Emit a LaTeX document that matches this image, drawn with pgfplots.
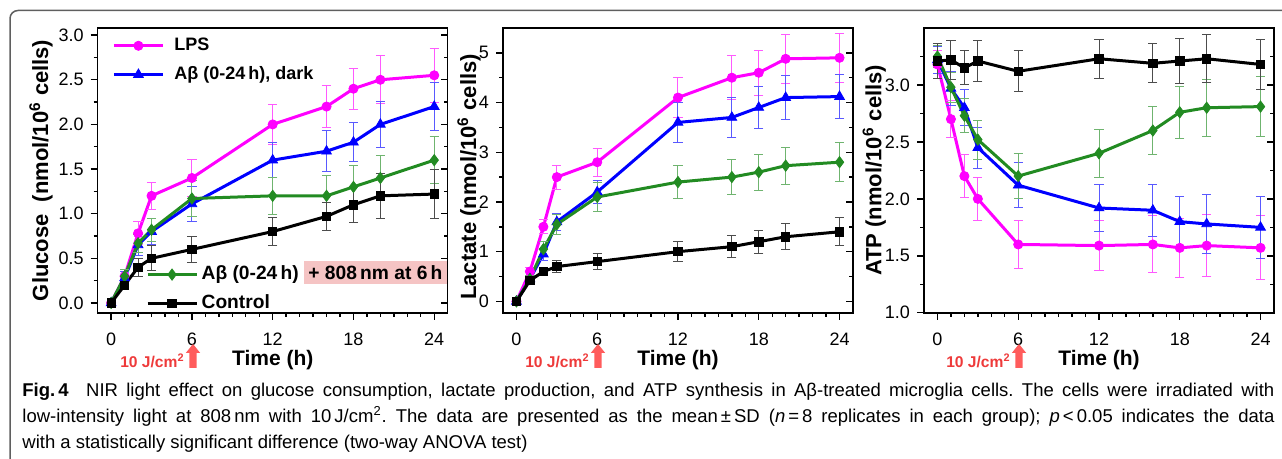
\documentclass[border=0pt]{standalone}
\usepackage{pgfplots}
\pgfplotsset{compat=1.18}
\usepackage{fontspec}
\setmainfont{Liberation Sans}
\newfontfamily\capfont{Liberation Sans}
\usetikzlibrary{arrows.meta}

\definecolor{lpsmag}{RGB}{255,0,255}
\definecolor{abblue}{RGB}{0,0,255}
\definecolor{nirgreen}{RGB}{34,139,34}
\definecolor{doseRed}{RGB}{238,58,58}
\definecolor{arrowRed}{RGB}{255,92,92}
\definecolor{hlpink}{RGB}{245,196,196}
\definecolor{frameGray}{RGB}{95,95,95}

\pgfplotsset{
  panel/.style={
    scale only axis, width=175pt, height=142.4pt, anchor=south west,
    xmin=-1, xmax=25, xtick={0,6,12,18,24}, minor x tick num=5,
    minor y tick num=1,
    xtick pos=bottom, ytick pos=left, tick align=outside,
    major tick length=3.5pt, minor tick length=2pt,
    axis line style={line width=0.8pt},
    tick style={black, line width=0.7pt},
    ticklabel style={font=\fontsize{9}{10}\selectfont},
    xticklabel style={yshift=-3pt},
    /pgf/number format/assume math mode=true,
    xlabel={Time (h)},
    xlabel style={font=\bfseries\fontsize{10.5}{12}\selectfont,
      at={(axis description cs:0.5,-0.165)}, anchor=center},
    clip=false,
  },
  rightticks/.style={panel, ytick pos=right, tick align=inside,
    yticklabels={}, xtick=\empty, axis line style={draw=none},
    xlabel={}, ylabel={}},
  legend image code/.code={\draw[mark repeat=2, mark phase=2, #1]
    plot coordinates {(0pt,0pt) (12.25pt,0pt) (24.5pt,0pt)};},
  ebar/.style={
    /pgfplots/error bars/y dir=both, /pgfplots/error bars/y explicit,
    /pgfplots/error bars/error bar style={#1, line width=0.5pt},
    /pgfplots/error bars/error mark options={#1, rotate=90, line width=0.5pt, mark size=2.3pt}},
  lps/.style={lpsmag, line width=1.5pt, mark=*, mark size=2.3pt,
    mark options={solid, line width=0.4pt}, ebar=lpsmag!65},
  dark/.style={abblue, line width=1.5pt, mark=triangle*, mark size=2.8pt,
    mark options={solid, line width=0.4pt}, ebar=abblue!65},
  nir/.style={nirgreen, line width=1.5pt, mark=diamond*, mark size=2.8pt,
    mark options={solid, line width=0.4pt}, ebar=nirgreen!65},
  ctrl/.style={black, line width=1.5pt, mark=square*, mark size=2.1pt,
    mark options={solid, line width=0.4pt}, ebar=black!70},
  twolegend/.style={legend cell align=left,
    legend style={draw=none, fill=none, inner sep=0pt, row sep=5.6pt,
      font=\bfseries\fontsize{9}{11}\selectfont,
      nodes={inner sep=0pt, text height=7pt, text depth=1.8pt}}},
}

\begin{document}
\begin{tikzpicture}
\useasboundingbox (0,0) rectangle (641pt,-229.5pt);

% ---------- Glucose ----------
\begin{axis}[panel, at={(48.85pt,-156.4pt)},
  ymin=-0.11, ymax=3.08, ytick={0,0.5,...,3},
  yticklabel style={/pgf/number format/.cd, fixed, fixed zerofill, precision=1},
  ylabel={Glucose\ \ (nmol/10\textsuperscript{6} cells)},
  ylabel style={font=\bfseries\fontsize{11}{13}\selectfont,
    at={(axis description cs:-0.162,0.5)}, anchor=center},
  twolegend,
  legend style={at={(axis description cs:0.041,0.887)}, anchor=west, column sep=5pt}]
\addplot[lps] coordinates {(0,0)+-(0,0.02) (1,0.3)+-(0,0.08) (2,0.78)+-(0,0.13)
  (3,1.2)+-(0,0.15) (6,1.4)+-(0,0.21) (12,2.0)+-(0,0.22) (16,2.2)+-(0,0.24)
  (18,2.4)+-(0,0.23) (20,2.5)+-(0,0.27) (24,2.55)+-(0,0.3)};
\addlegendentry{LPS}
\addplot[dark] coordinates {(0,0)+-(0,0.02) (1,0.28)+-(0,0.07) (2,0.65)+-(0,0.12)
  (3,0.8)+-(0,0.15) (6,1.11)+-(0,0.2) (12,1.6)+-(0,0.2) (16,1.7)+-(0,0.23)
  (18,1.8)+-(0,0.22) (20,2.0)+-(0,0.26) (24,2.2)+-(0,0.27)};
\addlegendentry{Aβ (0-24\,h), dark}
\addplot[nir] coordinates {(0,0)+-(0,0.02) (1,0.3)+-(0,0.07) (2,0.67)+-(0,0.1)
  (3,0.82)+-(0,0.13) (6,1.17)+-(0,0.2) (12,1.2)+-(0,0.21) (16,1.2)+-(0,0.23)
  (18,1.3)+-(0,0.24) (20,1.4)+-(0,0.25) (24,1.6)+-(0,0.26)};
\addplot[ctrl] coordinates {(0,0)+-(0,0.02) (1,0.2)+-(0,0.05) (2,0.4)+-(0,0.1)
  (3,0.5)+-(0,0.14) (6,0.6)+-(0,0.15) (12,0.8)+-(0,0.16) (16,0.97)+-(0,0.16)
  (18,1.1)+-(0,0.2) (20,1.2)+-(0,0.25) (24,1.22)+-(0,0.27)};
\end{axis}
\begin{axis}[rightticks, at={(48.85pt,-156.4pt)},
  ymin=-0.11, ymax=3.08, ytick={0,0.5,...,3}]
\end{axis}
% second legend of the first panel
\begin{axis}[panel, at={(48.85pt,-156.4pt)}, hide axis,
  xmin=0, xmax=1, ymin=0, ymax=1, twolegend,
  legend style={at={(axis description cs:0.137,0.0836)}, anchor=west, column sep=1.8pt,
    font=\bfseries\fontsize{9.6}{11}\selectfont}]
\addlegendimage{nir}
\addlegendentry{Aβ (0-24\,h) \smash{\setlength{\fboxsep}{2.2pt}\colorbox{hlpink}{+ 808\,nm at 6\,h}}}
\addlegendimage{ctrl}
\addlegendentry{Control}
\end{axis}

% ---------- Lactate ----------
\begin{axis}[panel, at={(251.5pt,-156.4pt)},
  ymin=-0.23, ymax=5.5, ytick={0,1,...,5},
  ylabel={Lactate (nmol/10\textsuperscript{6} cells)},
  ylabel style={font=\bfseries\fontsize{11}{13}\selectfont,
    at={(axis description cs:-0.097,0.477)}, anchor=center}]
\addplot[lps] coordinates {(0,0)+-(0,0.03) (1,0.6)+-(0,0.08) (2,1.5)+-(0,0.14)
  (3,2.5)+-(0,0.24) (6,2.8)+-(0,0.28) (12,4.1)+-(0,0.4) (16,4.5)+-(0,0.44)
  (18,4.6)+-(0,0.45) (20,4.88)+-(0,0.49) (24,4.9)+-(0,0.49)};
\addplot[dark] coordinates {(0,0)+-(0,0.03) (1,0.45)+-(0,0.07) (2,0.95)+-(0,0.12)
  (3,1.6)+-(0,0.17) (6,2.2)+-(0,0.24) (12,3.6)+-(0,0.4) (16,3.7)+-(0,0.4)
  (18,3.9)+-(0,0.42) (20,4.1)+-(0,0.45) (24,4.12)+-(0,0.44)};
\addplot[nir] coordinates {(0,0)+-(0,0.03) (1,0.45)+-(0,0.08) (2,1.05)+-(0,0.15)
  (3,1.55)+-(0,0.2) (6,2.1)+-(0,0.3) (12,2.4)+-(0,0.33) (16,2.5)+-(0,0.35)
  (18,2.6)+-(0,0.36) (20,2.73)+-(0,0.37) (24,2.8)+-(0,0.39)};
\addplot[ctrl] coordinates {(0,0)+-(0,0.03) (1,0.42)+-(0,0.06) (2,0.6)+-(0,0.08)
  (3,0.7)+-(0,0.12) (6,0.8)+-(0,0.16) (12,1.0)+-(0,0.2) (16,1.1)+-(0,0.22)
  (18,1.2)+-(0,0.23) (20,1.3)+-(0,0.26) (24,1.4)+-(0,0.28)};
\end{axis}
\begin{axis}[rightticks, at={(251.5pt,-156.4pt)},
  ymin=-0.23, ymax=5.5, ytick={0,1,...,5}]
\end{axis}

% ---------- ATP ----------
\begin{axis}[panel, at={(462pt,-156.4pt)},
  ymin=1.0, ymax=3.5, ytick={1,1.5,...,3},
  extra y ticks={3.25}, extra y tick labels={},
  extra y tick style={major tick length=2pt},
  yticklabel style={/pgf/number format/.cd, fixed, fixed zerofill, precision=1},
  ylabel={ATP (nmol/10\textsuperscript{6} cells)},
  ylabel style={font=\bfseries\fontsize{11}{13}\selectfont,
    at={(axis description cs:-0.142,0.5)}, anchor=center}]
\addplot[lps] coordinates {(0,3.18)+-(0,0.12) (1,2.7)+-(0,0.16) (2,2.2)+-(0,0.19)
  (3,2.0)+-(0,0.19) (6,1.6)+-(0,0.21) (12,1.59)+-(0,0.22) (16,1.6)+-(0,0.25)
  (18,1.57)+-(0,0.26) (20,1.59)+-(0,0.27) (24,1.57)+-(0,0.28)};
\addplot[dark] coordinates {(0,3.22)+-(0,0.12) (1,2.97)+-(0,0.15) (2,2.8)+-(0,0.16)
  (3,2.45)+-(0,0.18) (6,2.12)+-(0,0.2) (12,1.92)+-(0,0.21) (16,1.9)+-(0,0.23)
  (18,1.8)+-(0,0.22) (20,1.78)+-(0,0.26) (24,1.75)+-(0,0.27)};
\addplot[nir] coordinates {(0,3.25)+-(0,0.1) (1,2.98)+-(0,0.13) (2,2.73)+-(0,0.15)
  (3,2.52)+-(0,0.17) (6,2.2)+-(0,0.2) (12,2.4)+-(0,0.21) (16,2.6)+-(0,0.21)
  (18,2.76)+-(0,0.23) (20,2.8)+-(0,0.25) (24,2.81)+-(0,0.26)};
\addplot[ctrl] coordinates {(0,3.21)+-(0,0.15) (1,3.22)+-(0,0.17) (2,3.15)+-(0,0.15)
  (3,3.21)+-(0,0.18) (6,3.12)+-(0,0.18) (12,3.23)+-(0,0.17) (16,3.19)+-(0,0.17)
  (18,3.21)+-(0,0.2) (20,3.23)+-(0,0.21) (24,3.18)+-(0,0.22)};
\end{axis}
\begin{axis}[rightticks, at={(462pt,-156.4pt)},
  ymin=1.0, ymax=3.5, ytick={1,1.5,...,3},
  extra y ticks={3.25}, extra y tick labels={},
  extra y tick style={major tick length=2pt}]
\end{axis}

% irradiation marks below x = 6 h
\begin{scope}[x=0.5pt, y=-0.5pt]
\foreach \cx in {193,598,1019} {
  \fill[arrowRed] (\cx-3.6,368) -- (\cx-3.6,353) -- (\cx-7.2,353) -- (\cx,344)
    -- (\cx+7.2,353) -- (\cx+3.6,353) -- (\cx+3.6,368) -- cycle;
  \node[anchor=east, text=doseRed, inner sep=0pt,
    font=\bfseries\fontsize{7.8}{9}\selectfont] at (\cx-8,361) {10 J/cm\textsuperscript{2}};
}
\end{scope}

% caption and frame
\draw[frameGray, line width=0.75pt] (645pt,-5.25pt) -- (9pt,-5.25pt)
  arc[start angle=90, end angle=180, radius=4pt] -- (5pt,-235pt);
\node[anchor=north west, inner sep=0pt, text width=626pt, align=justify,
  font=\capfont\fontsize{9.25}{13}\selectfont] at (11pt,-191.5pt) {\frenchspacing
  \textbf{Fig.\,4}\hspace{0.5em} NIR light effect on glucose consumption, lactate production, and ATP synthesis in Aβ-treated microglia cells. The cells were irradiated with\linebreak
  low-intensity light at 808\,nm with 10\,J/cm\textsuperscript{2}. The data are presented as the mean\,±\,SD (\textit{n}\,=\,8 replicates in each group); \textit{p}\,<\,0.05 indicates the data\linebreak
  with a statistically significant difference (two-way ANOVA test)};
\end{tikzpicture}
\end{document}
